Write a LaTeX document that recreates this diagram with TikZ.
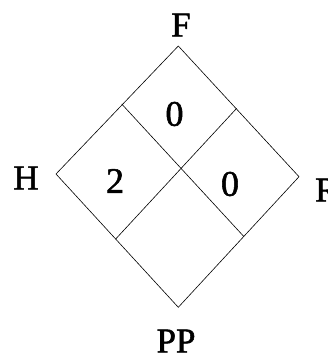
\documentclass[tikz,border=0pt]{standalone}
\usepackage{fontspec}
\setmainfont{Liberation Serif}
\newfontfamily\heavyserif[FakeBold=1.5]{Liberation Serif}
\begin{document}
\begin{tikzpicture}[x=1pt,y=-1pt,
  edge/.style={draw=black,line width=0.6pt},
  lbl/.style={inner sep=0pt,font=\heavyserif\fontsize{35}{40}\selectfont},
  num/.style={inner sep=0pt,font=\heavyserif\fontsize{36}{40}\selectfont}]
\useasboundingbox (0,0) rectangle (328,363);
\coordinate (T) at (178.3,46);
\coordinate (L) at (56,174);
\coordinate (R) at (299,176.7);
\coordinate (B) at (178.3,307.3);
\coordinate (TL) at (121.7,104);
\coordinate (TR) at (236.7,108.3);
\coordinate (BL) at (115.7,239);
\coordinate (BR) at (244,236.7);
\draw[edge] (T) -- (R) -- (B) -- (L) -- cycle;
\draw[edge] (TL) -- (BR);
\draw[edge] (TR) -- (BL);
\node[lbl] (f) at (181,25) {F};
\node[lbl] (h) at (26,178) {H};
\node[lbl,anchor=west] (r) at (315,190) {R};
\node[lbl] (pp) at (176,341) {PP};
\node[num] (n1) at (174.5,114) {0};
\node[num] (n2) at (115,181) {2};
\node[num] (n3) at (230,184) {0};
\end{tikzpicture}
\end{document}
